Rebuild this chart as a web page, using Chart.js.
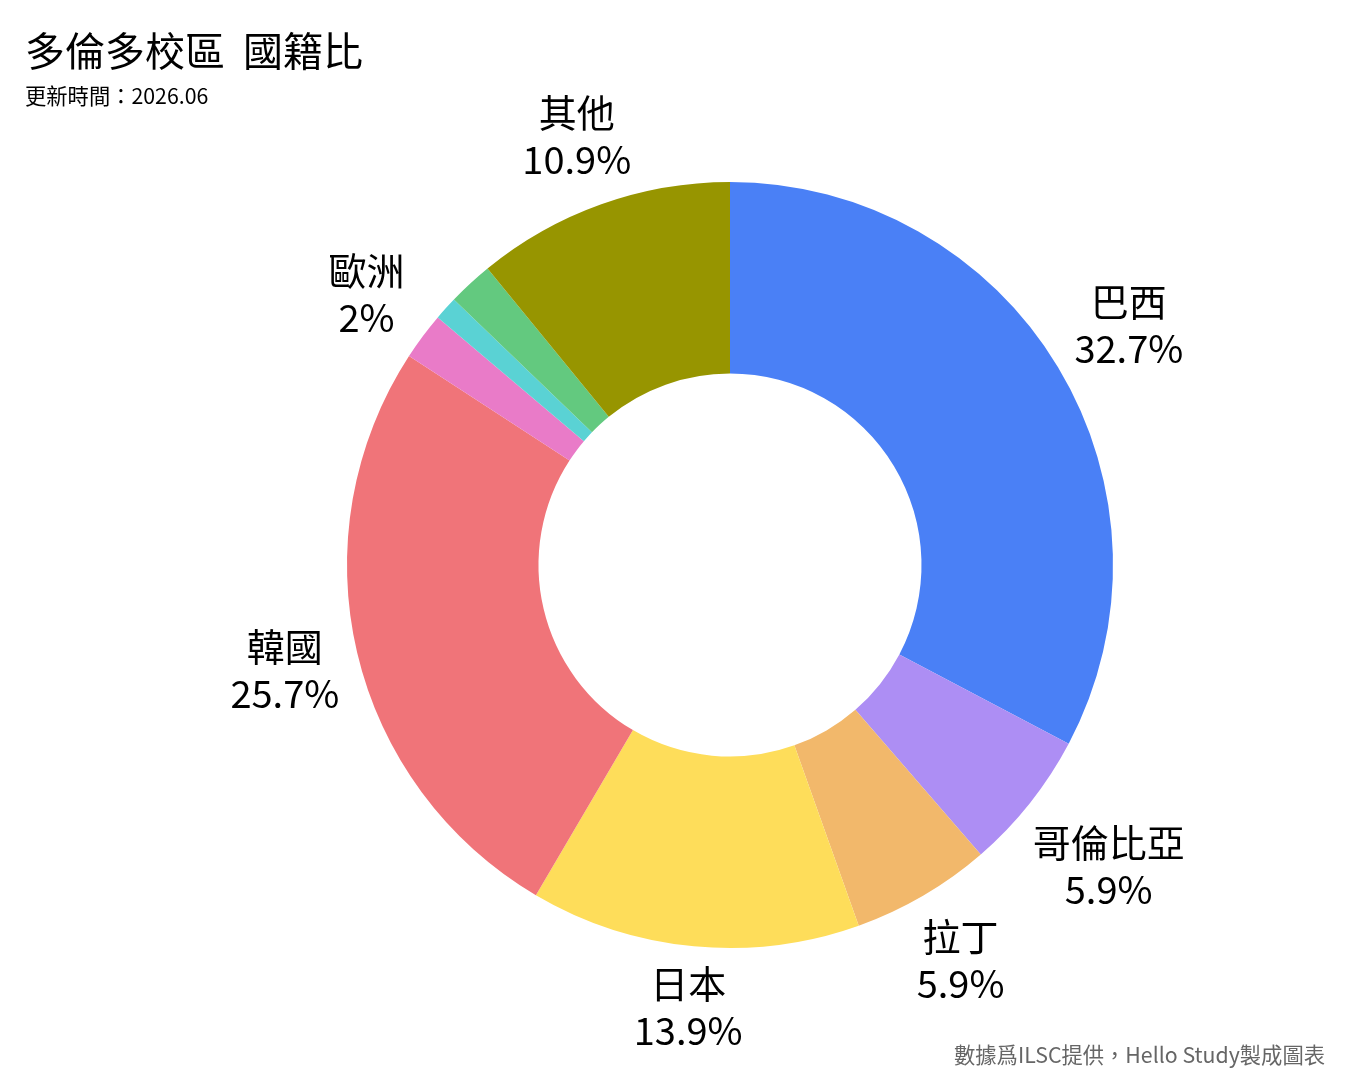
<!DOCTYPE html>
<html>
<head>
<meta charset="utf-8">
<script src="https://cdn.jsdelivr.net/npm/chart.js@4"></script>
<style>
  body { margin: 0; background: #fff; }
  #wrap { width: 1350px; height: 1080px; position: relative; }
</style>
</head>
<body>
<div id="wrap"><canvas id="myChart"></canvas></div>
<script>
// data (percent of students)
const names = ["巴西", "哥倫比亞", "拉丁", "日本", "韓國", "歐洲", "", "", "其他"];
const shares = [32.7, 5.9, 5.9, 13.9, 25.7, 2.0, 1.0, 1.9, 10.9];
const colors = ["#4a80f6", "#ad8ef4", "#f2b86b", "#fedd5a", "#f07479", "#e97bc8", "#5ad2d4", "#63c97f", "#979500"];

const titleText = "多倫多校區  國籍比";
const subtitleText = "更新時間：2026.06";
const footerText = "數據爲ILSC提供，Hello Study製成圖表";

const FONT = '"Noto Sans CJK TC", "Noto Sans", sans-serif';

// labels outside the ring, box pushed out until its nearest point clears the ring
const outsideLabels = {
  id: "outsideLabels",
  afterDatasetsDraw(chart) {
    const ctx = chart.ctx;
    const meta = chart.getDatasetMeta(0);
    const lineH = 47;
    ctx.save();
    ctx.font = "38px " + FONT;
    ctx.fillStyle = "#000";
    ctx.textAlign = "center";
    ctx.textBaseline = "middle";
    meta.data.forEach((arc, i) => {
      if (!names[i] || shares[i] < 2) return;
      const p = arc.getProps(["x", "y", "startAngle", "endAngle", "outerRadius"], true);
      const mid = (p.startAngle + p.endAngle) / 2;
      const vx = Math.cos(mid);
      const vy = Math.sin(mid);
      const lines = [names[i], shares[i] + "%"];
      const hw = Math.max(...lines.map((t) => ctx.measureText(t).width)) / 2;
      const hh = (lineH * lines.length) / 2;
      const target = p.outerRadius + 12;
      let lo = 0, hi = 1200;
      for (let k = 0; k < 40; k++) {
        const d = (lo + hi) / 2;
        const nx = Math.max(Math.abs(d * vx) - hw, 0);
        const ny = Math.max(Math.abs(d * vy) - hh, 0);
        if (Math.hypot(nx, ny) < target) lo = d; else hi = d;
      }
      const cx = p.x + lo * vx;
      const cy = p.y + lo * vy;
      ctx.fillText(lines[0], cx, cy - lineH / 2);
      ctx.fillText(lines[1], cx, cy + lineH / 2);
    });
    ctx.restore();
  },
  afterDraw(chart) {
    const ctx = chart.ctx;
    ctx.save();
    ctx.textBaseline = "middle";
    ctx.fillStyle = "#000";
    ctx.textAlign = "left";
    ctx.font = "40px " + FONT;
    ctx.fillText(titleText, 25, 51);
    ctx.font = "21.3px " + FONT;
    ctx.fillText(subtitleText, 25, 96);
    ctx.fillStyle = "#666";
    ctx.textAlign = "right";
    ctx.fillText(footerText, 1325, 1055);
    ctx.restore();
  },
};

const ctx = document.getElementById("myChart").getContext("2d");
const myChart = new Chart(ctx, {
  type: "doughnut",
  data: {
    labels: names,
    datasets: [
      {
        data: shares,
        backgroundColor: colors,
        borderWidth: 0,
      },
    ],
  },
  options: {
    responsive: true,
    maintainAspectRatio: false,
    animation: false,
    cutout: "50%",
    layout: { padding: { left: 346, right: 236, top: 182, bottom: 132 } },
    plugins: {
      legend: { display: false },
      tooltip: { enabled: false },
    },
  },
  plugins: [outsideLabels],
});
</script>
</body>
</html>
